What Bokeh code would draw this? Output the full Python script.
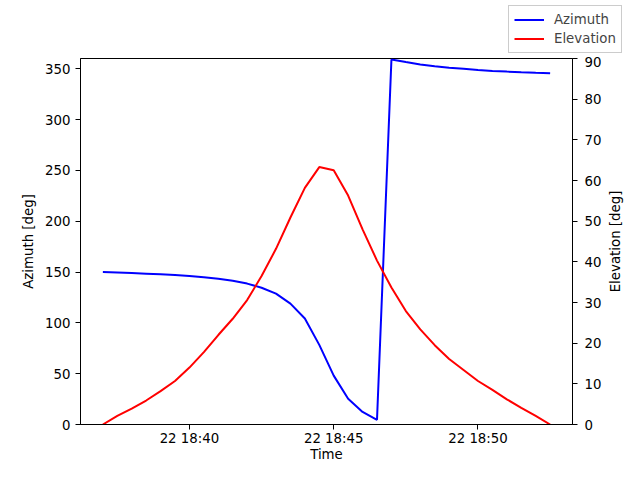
import math
import pandas as pd
from bokeh.plotting import figure
from bokeh.layouts import column, row
from bokeh.models import (Range1d, LinearAxis, FixedTicker, DatetimeTickFormatter,
                          Legend, LegendItem, Label)
from bokeh.embed import file_html
from bokeh.resources import INLINE

# ---- data ----
times = [
    "2024-01-22 18:37:00", "2024-01-22 18:37:30", "2024-01-22 18:38:00", "2024-01-22 18:38:30",
    "2024-01-22 18:39:00", "2024-01-22 18:39:30", "2024-01-22 18:40:00", "2024-01-22 18:40:30",
    "2024-01-22 18:41:00", "2024-01-22 18:41:30", "2024-01-22 18:42:00", "2024-01-22 18:42:30",
    "2024-01-22 18:43:00", "2024-01-22 18:43:30", "2024-01-22 18:44:00", "2024-01-22 18:44:30",
    "2024-01-22 18:45:00", "2024-01-22 18:45:30", "2024-01-22 18:46:00", "2024-01-22 18:46:30",
    "2024-01-22 18:47:00", "2024-01-22 18:47:30", "2024-01-22 18:48:00", "2024-01-22 18:48:30",
    "2024-01-22 18:49:00", "2024-01-22 18:49:30", "2024-01-22 18:50:00", "2024-01-22 18:50:30",
    "2024-01-22 18:51:00", "2024-01-22 18:51:30", "2024-01-22 18:52:00", "2024-01-22 18:52:30",
]
azimuth = [149.9, 149.5, 149.0, 148.4, 147.8, 147.0, 146.0, 144.8,
           143.3, 141.4, 138.6, 134.5, 128.7, 118.9, 104.3, 78.3,
           48.1, 25.3, 12.4, 4.6, 359.0, 356.5, 354.2, 352.4,
           351.0, 349.8, 348.6, 347.8, 347.1, 346.5, 346.0, 345.6]
elevation = [0.0, 2.1, 3.9, 5.9, 8.2, 10.7, 14.0, 17.8,
             22.0, 26.0, 30.6, 36.5, 43.2, 50.9, 58.2, 63.3,
             62.5, 56.3, 48.0, 40.3, 33.7, 27.9, 23.4, 19.5,
             16.1, 13.4, 10.7, 8.5, 6.2, 4.1, 2.1, 0.0]
x_ticks = ["2024-01-22 18:40:00", "2024-01-22 18:45:00", "2024-01-22 18:50:00"]
az_ticks = [0, 50, 100, 150, 200, 250, 300, 350]
el_ticks = [0, 10, 20, 30, 40, 50, 60, 70, 80, 90]
series_names = ["Azimuth", "Elevation"]
series_colors = ["blue", "red"]
series_values = [azimuth, elevation]
right_label = "Elevation [deg]"

t = pd.to_datetime(times)
span = t.max() - t.min()
x_start = t.min() - 0.05 * span
x_end = t.max() + 0.05 * span

FONT = "DejaVu Sans"
FS = "13.33px"

MAIN_H = 408
TOP_B, BOT_B = 2, 40

# ---- main chart ----
p = figure(width=604, height=MAIN_H, x_axis_type="datetime",
           x_range=Range1d(x_start, x_end), y_range=Range1d(0, 360),
           output_backend="svg", toolbar_location=None, title=None,
           min_border_left=80, min_border_right=29, min_border_top=TOP_B, min_border_bottom=BOT_B)
p.frame_align = False
p.extra_y_ranges = {"elev": Range1d(0, 90)}
p.xgrid.visible = False
p.ygrid.visible = False
p.outline_line_color = "black"
p.outline_line_alpha = 1.0
p.outline_line_width = 1
p.background_fill_color = "white"
p.border_fill_color = "white"

right_axis = LinearAxis(y_range_name="elev")
p.add_layout(right_axis, "right")

p.xaxis.ticker = FixedTicker(ticks=[pd.Timestamp(s).value / 1e6 for s in x_ticks])
p.xaxis.formatter = DatetimeTickFormatter(minsec="%d %H:%M", minutes="%d %H:%M",
                                          hourmin="%d %H:%M", hours="%d %H:%M")
p.xaxis.axis_label = "Time"
p.yaxis[0].ticker = FixedTicker(ticks=az_ticks)
p.yaxis[0].axis_label = "Azimuth [deg]"
right_axis.ticker = FixedTicker(ticks=el_ticks)

for ax in p.axis:
    ax.major_label_text_font = FONT
    ax.major_label_text_font_size = FS
    ax.major_label_text_color = "black"
    ax.axis_label_text_font = FONT
    ax.axis_label_text_font_size = FS
    ax.axis_label_text_font_style = "normal"
    ax.axis_label_text_color = "black"
    ax.axis_line_color = "black"
    ax.major_tick_line_color = "black"
    ax.major_tick_out = 5
    ax.major_tick_in = 0
    ax.minor_tick_line_color = None

p.xaxis.major_label_standoff = 1
p.xaxis.axis_label_standoff = -2
p.yaxis[0].major_label_standoff = 5
p.yaxis[0].axis_label_standoff = 6
right_axis.major_label_standoff = 7

p.line(t, azimuth, line_color=series_colors[0], line_width=2)
p.line(t, elevation, line_color=series_colors[1], line_width=2, y_range_name="elev")

# ---- strip at right holding the right axis title (reads bottom-to-top) ----
rs = figure(width=20, height=MAIN_H, output_backend="svg", toolbar_location=None, title=None,
            x_range=Range1d(0, 1), y_range=Range1d(0, 1),
            x_axis_location=None, y_axis_location=None,
            min_border_left=0, min_border_right=0, min_border_top=0, min_border_bottom=0)
rs.frame_align = False
rs.xgrid.visible = False
rs.ygrid.visible = False
rs.outline_line_color = None
rs.background_fill_color = "white"
rs.border_fill_color = "white"
frame_mid_from_bottom = BOT_B + (MAIN_H - TOP_B - BOT_B) / 2
rs.add_layout(Label(x=11, y=frame_mid_from_bottom, x_units="screen", y_units="screen",
                    text=right_label, angle=math.pi / 2, text_align="center",
                    text_baseline="middle", text_font=FONT, text_font_size=FS,
                    text_color="black"))

# ---- legend strip above the chart (figure-level legend, top right) ----
leg = figure(width=624, height=56, output_backend="svg", toolbar_location=None, title=None,
             x_axis_type="datetime", x_range=Range1d(0, 1), y_range=Range1d(-2, -1),
             x_axis_location=None, y_axis_location=None,
             min_border_left=0, min_border_right=0, min_border_top=0, min_border_bottom=0)
leg.frame_align = False
leg.xgrid.visible = False
leg.ygrid.visible = False
leg.outline_line_color = None
leg.background_fill_color = "white"
leg.border_fill_color = "white"
items = []
for name, col, vals in zip(series_names, series_colors, series_values):
    # proxy renderers (the same series, outside this strip's visible ranges)
    r = leg.line(t, vals, line_color=col, line_width=2)
    items.append(LegendItem(label=name, renderers=[r]))

legend = Legend(items=items, location=(508, 3))
legend.label_text_font = FONT
legend.label_text_font_size = FS
legend.glyph_width = 30
legend.glyph_height = 17
legend.label_standoff = 10
legend.label_height = 17
legend.padding = 5
legend.spacing = 2
legend.margin = 0
legend.border_line_color = "#cccccc"
legend.border_line_alpha = 1.0
legend.background_fill_color = "white"
legend.background_fill_alpha = 0.8
leg.add_layout(legend)

layout = column(leg, row(p, rs, spacing=0), spacing=0)
open("out.html", "w").write(file_html(layout, INLINE))
